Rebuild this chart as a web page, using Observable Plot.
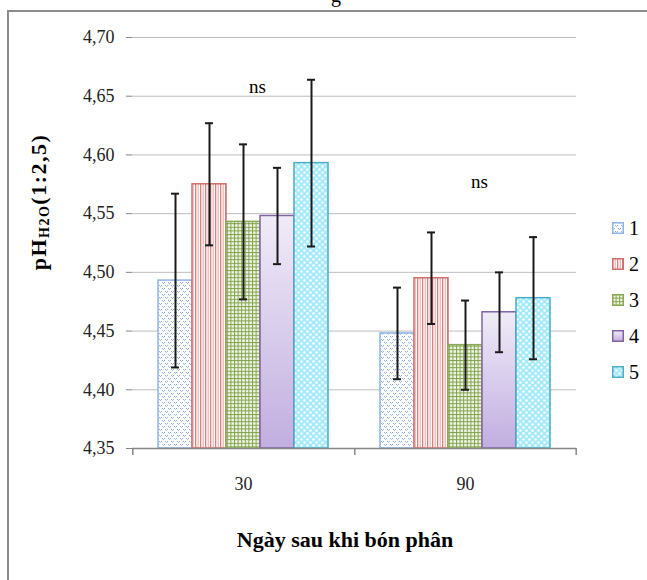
<!DOCTYPE html>
<html><head><meta charset="utf-8">
<script src="https://cdn.jsdelivr.net/npm/d3@7"></script>
<script src="https://cdn.jsdelivr.net/npm/@observablehq/plot@0.6"></script>
<style>
body{margin:0;background:#fff;font-family:"Liberation Serif","Times New Roman",serif;}
#wrap{position:relative;width:647px;height:580px;overflow:hidden;}
#frame{position:absolute;left:7px;top:10px;width:720px;height:720px;border:2px solid #8c8c8c;box-sizing:border-box;}
#chart{position:absolute;left:0;top:0;}
#chart svg, #chart svg text{font-family:"Liberation Serif","Times New Roman",serif !important;}
#ytitle{position:absolute;left:39px;top:202px;transform:translate(-50%,-50%) rotate(-90deg);white-space:nowrap;font-weight:bold;font-size:22px;letter-spacing:1.5px;color:#000;font-family:"Liberation Serif",serif;}
#ytitle sub{font-size:14px;vertical-align:-3px;}
#xtitle{position:absolute;left:345px;top:527px;transform:translateX(-50%);white-space:nowrap;font-weight:bold;font-size:22px;color:#000;font-family:"Liberation Serif",serif;}
#toptitle{position:absolute;left:331px;top:-16px;font-size:20px;color:#000;font-family:"Liberation Serif",serif;}
#legend{position:absolute;left:612px;top:218px;font-family:"Liberation Serif",serif;}
.li{height:36px;display:flex;align-items:flex-start;font-size:20px;color:#000;}
.li svg{margin-top:4px;margin-right:5px;}
.li span{line-height:20px;}
</style></head><body>
<svg width="0" height="0" style="position:absolute">
<defs>
<pattern id="pat1" width="6" height="6" patternUnits="userSpaceOnUse">
<rect width="6" height="6" fill="#fff"/>
<rect x="0" y="0" width="1" height="1" fill="#8db0e4"/><rect x="1" y="1" width="1" height="1" fill="#a9c4ee"/>
<rect x="2" y="0" width="1" height="1" fill="#8db0e4"/><rect x="3" y="3" width="1" height="1" fill="#8db0e4"/>
<rect x="4" y="4" width="1" height="1" fill="#a9c4ee"/><rect x="5" y="3" width="1" height="1" fill="#8db0e4"/>
</pattern>
<pattern id="pat2" width="5" height="5" patternUnits="userSpaceOnUse">
<rect width="5" height="5" fill="#fff"/>
<rect x="0" y="0" width="1.3" height="5" fill="#d9807d"/>
<rect x="2.6" y="0" width="1.2" height="5" fill="#ebb2b0"/>
</pattern>
<pattern id="pat3" width="3.6" height="3.6" patternUnits="userSpaceOnUse">
<rect width="3.6" height="3.6" fill="#f1f6e8"/>
<rect x="0" y="0" width="3.6" height="1" fill="#80a24a"/>
<rect x="0" y="0" width="1" height="3.6" fill="#80a24a"/>
</pattern>
<linearGradient id="pat4" x1="0" y1="0" x2="0" y2="1">
<stop offset="0" stop-color="#f0ebf8"/><stop offset="1" stop-color="#c1aee0"/>
</linearGradient>
<pattern id="pat5" width="6" height="6" patternUnits="userSpaceOnUse">
<rect width="6" height="6" fill="#a3eafb"/>
<circle cx="1.5" cy="1.5" r="1.3" fill="#fff"/>
<circle cx="4.5" cy="4.5" r="1.3" fill="#fff"/>
</pattern>
</defs>
</svg>
<div id="wrap">
<div id="frame"></div>
<div id="toptitle">g</div>
<div id="chart"></div>
<div id="ytitle">pH<sub>H2O</sub>(1:2,5)</div>
<div id="xtitle">Ngày sau khi bón phân</div>
<div id="legend"></div>
</div>
<script>
// ---- data ----
const days = ["30", "90"];
const treatments = ["1", "2", "3", "4", "5"];
const means30 = [4.493, 4.575, 4.543, 4.548, 4.593];
const errs30  = [0.074, 0.052, 0.066, 0.041, 0.071];
const means90 = [4.448, 4.495, 4.438, 4.466, 4.478];
const errs90  = [0.039, 0.039, 0.038, 0.034, 0.052];
const yTicks = [4.35, 4.40, 4.45, 4.50, 4.55, 4.60, 4.65, 4.70];
const nsLabels = ["ns", "ns"];
const nsY = [4.658, 4.577];

// ---- styles ----
const fills = ["url(#pat1)", "url(#pat2)", "url(#pat3)", "url(#pat4)", "url(#pat5)"];
const borders = ["#8fb3e3", "#d0706d", "#8aa957", "#8064a2", "#4bacc6"];

const rows = [];
days.forEach((day, di) => {
  const m = di === 0 ? means30 : means90;
  const e = di === 0 ? errs30 : errs90;
  treatments.forEach((t, i) => rows.push({day, treat: t, mean: m[i], err: e[i]}));
});
const nsData = days.map((d, i) => ({day: d, y: nsY[i], text: nsLabels[i]}));
const base = yTicks[0];

const W = 647, H = 580, ML = 132, MR = 71, MT = 37, MB = 132;
const padOuter = 0.75;
const step = (W - ML - MR) / days.length / (treatments.length + 2 * padOuter);
const edge = (padOuter + 0.5) * step;

const fmt = v => d3.format(".2f")(v).replace(".", ",");

const marks = [
  Plot.ruleY(yTicks.slice(1), {stroke: "#bdbdbd", strokeWidth: 1}),
  ...treatments.map((t, i) => Plot.barY(rows.filter(r => r.treat === t), {
    fx: "day", x: "treat", y1: base, y2: "mean",
    fill: fills[i], stroke: borders[i], strokeWidth: 1.5
  })),
  Plot.ruleY([base], {stroke: "#868686", strokeWidth: 1.5}),
  Plot.ruleX(days, {fx: d => d, x: () => treatments[0], dx: -edge, y1: base, y2: base, insetBottom: -7, stroke: "#868686", strokeWidth: 1.5}),
  Plot.ruleX([days[days.length - 1]], {fx: d => d, x: () => treatments[treatments.length - 1], dx: edge, y1: base, y2: base, insetBottom: -7, stroke: "#868686", strokeWidth: 1.5}),
  Plot.ruleX(rows, {fx: "day", x: "treat", y1: d => d.mean - d.err, y2: d => d.mean + d.err, stroke: "#1a1a1a", strokeWidth: 2}),
  Plot.tickY(rows, {fx: "day", x: "treat", y: d => d.mean - d.err, insetLeft: 13, insetRight: 13, stroke: "#1a1a1a", strokeWidth: 2}),
  Plot.tickY(rows, {fx: "day", x: "treat", y: d => d.mean + d.err, insetLeft: 13, insetRight: 13, stroke: "#1a1a1a", strokeWidth: 2}),
  Plot.text(nsData, {fx: "day", x: () => treatments[2], y: "y", text: "text", dx: 14, fontSize: 19, fill: "#000"})
];

const chart = Plot.plot({
  width: W, height: H,
  marginLeft: ML, marginRight: MR, marginTop: MT, marginBottom: MB,
  style: {background: "transparent", "font-family": "'Liberation Serif', serif", "font-size": "18px", color: "#000"},
  fx: {domain: days, padding: 0, label: null, axis: "bottom", tickSize: 0, tickPadding: 29},
  x: {domain: treatments, paddingInner: 0, paddingOuter: padOuter, axis: null},
  y: {domain: [yTicks[0], yTicks[yTicks.length - 1]], ticks: yTicks, tickFormat: fmt, tickSize: 6, tickPadding: 12, label: null},
  marks
});
document.getElementById("chart").appendChild(chart);
chart.querySelectorAll('[aria-label="y-axis tick"] path, [aria-label="y-axis"] path').forEach(p => p.setAttribute("stroke", "#868686"));
chart.querySelectorAll('[aria-label="y-axis tick label"] text, [aria-label="fx-axis tick label"] text').forEach(t => t.setAttribute("fill", "#222"));

// legend
const lg = document.getElementById("legend");
treatments.forEach((t, i) => {
  const div = document.createElement("div");
  div.className = "li";
  div.innerHTML = `<svg width="12" height="12"><rect x="0.75" y="0.75" width="10.5" height="10.5" fill="${fills[i]}" stroke="${borders[i]}" stroke-width="1.5"/></svg><span>${t}</span>`;
  lg.appendChild(div);
});
</script>
</body></html>
